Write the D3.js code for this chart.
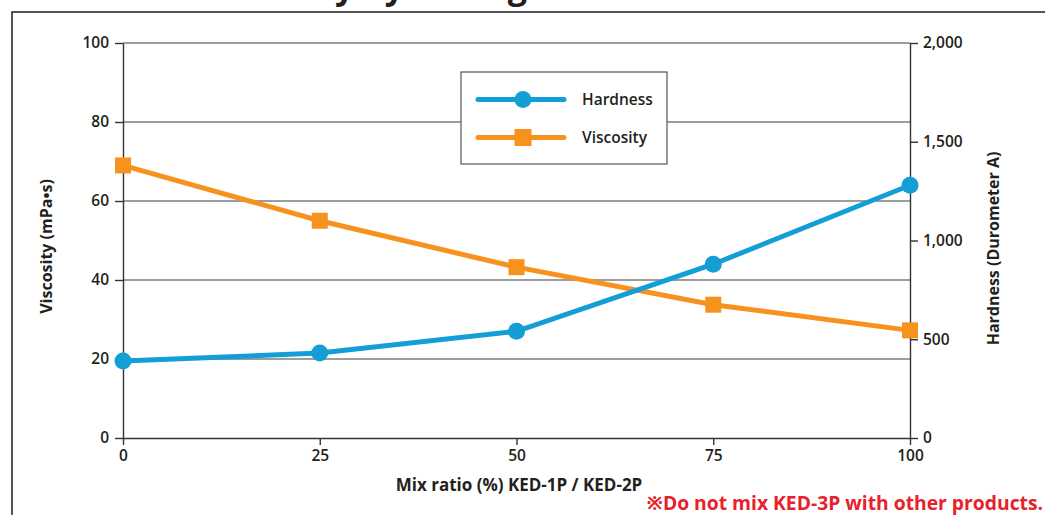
<!DOCTYPE html>
<html>
<head>
<meta charset="utf-8">
<script src="https://cdn.jsdelivr.net/npm/d3@7"></script>
<style>
  html, body { margin: 0; padding: 0; background: #fff; }
  svg { display: block; }
  text { font-family: "Open Sans", "Noto Sans", sans-serif; fill: #231f20; }
</style>
</head>
<body>
<svg id="chart" width="1045" height="515"></svg>
<script>
// Mix ratio of KED-1P / KED-2P and the measured properties
const mixRatio = [0, 25, 50, 75, 100];
const hardness = [19.5, 21.5, 27, 44, 64];        // left scale
const viscosity = [1380, 1100, 865, 675, 545];    // right scale

const xTicks = [0, 25, 50, 75, 100];
const leftTicks = [0, 20, 40, 60, 80, 100];
const rightTicks = [0, 500, 1000, 1500, 2000];
const gridTicks = [20, 40, 60, 80, 100];

const seriesNames = ["Hardness", "Viscosity"];
const seriesColors = ["#139fd6", "#f7921e"];

const svg = d3.select("#chart");
const W = 1045, H = 515;
const plot = { left: 123, right: 910, top: 43, bottom: 438 };

const x = d3.scaleLinear().domain([0, 100]).range([plot.left, plot.right]);
const yL = d3.scaleLinear().domain([0, 100]).range([plot.bottom, plot.top]);
const yR = d3.scaleLinear().domain([0, 2000]).range([plot.bottom, plot.top]);

// heading (sits above the visible area, only its descenders reach in)
svg.append("text")
  .attr("x", 527).attr("y", -1)
  .attr("text-anchor", "end")
  .style("font-size", "34px").style("font-weight", 700)
  .text("Hardness / Viscosity by Mixing");

// outer frame
svg.append("rect")
  .attr("x", 12).attr("y", 12)
  .attr("width", W + 20).attr("height", H + 20)
  .attr("fill", "none").attr("stroke", "#2b2b2b").attr("stroke-width", 1.6);

// horizontal grid
svg.append("g").selectAll("line").data(gridTicks).join("line")
  .attr("x1", plot.left).attr("x2", plot.right)
  .attr("y1", d => yL(d)).attr("y2", d => yL(d))
  .attr("stroke", "#7d7d7d").attr("stroke-width", 1.5);

const tickFont = g => g.selectAll("text")
  .style("font-size", "15.5px").style("font-weight", 600).attr("fill", "#231f20");
const axisStyle = g => {
  g.select(".domain").attr("stroke", "#333").attr("stroke-width", 1.4);
  g.selectAll(".tick line").attr("stroke", "#333").attr("stroke-width", 1.4);
  tickFont(g);
};

svg.append("g")
  .attr("transform", `translate(0,${plot.bottom})`)
  .call(d3.axisBottom(x).tickValues(xTicks).tickSize(7).tickSizeOuter(0).tickPadding(5))
  .call(axisStyle);

svg.append("g")
  .attr("transform", `translate(${plot.left},0)`)
  .call(d3.axisLeft(yL).tickValues(leftTicks).tickSize(8).tickSizeOuter(0).tickPadding(6))
  .call(axisStyle);

svg.append("g")
  .attr("transform", `translate(${plot.right},0)`)
  .call(d3.axisRight(yR).tickValues(rightTicks).tickSize(8).tickSizeOuter(0).tickPadding(5)
    .tickFormat(d3.format(",")))
  .call(axisStyle);

// axis titles
svg.append("text")
  .attr("transform", `translate(52,${(plot.top + plot.bottom) / 2 + 6}) rotate(-90)`)
  .attr("text-anchor", "middle")
  .style("font-size", "16px").style("font-weight", 700)
  .text("Viscosity (mPa\u2022s)");

svg.append("text")
  .attr("transform", `translate(999,${(plot.top + plot.bottom) / 2 + 8}) rotate(-90)`)
  .attr("text-anchor", "middle")
  .style("font-size", "16px").style("font-weight", 700)
  .text("Hardness (Durometer A)");

svg.append("text")
  .attr("x", 519).attr("y", 491)
  .attr("text-anchor", "middle")
  .style("font-size", "17px").style("font-weight", 700)
  .text("Mix ratio (%) KED-1P / KED-2P");

svg.append("text")
  .attr("x", 1043).attr("y", 509.5)
  .attr("text-anchor", "end")
  .attr("fill", "#e8212b").style("fill", "#e8212b")
  .style("font-size", "19.3px").style("font-weight", 700)
  .text("\u203BDo not mix KED-3P with other products.");

// series
const hardPts = mixRatio.map((m, i) => [x(m), yL(hardness[i])]);
const viscPts = mixRatio.map((m, i) => [x(m), yR(viscosity[i])]);
const line = d3.line();

svg.append("path").attr("d", line(viscPts))
  .attr("fill", "none").attr("stroke", seriesColors[1]).attr("stroke-width", 5);
svg.append("path").attr("d", line(hardPts))
  .attr("fill", "none").attr("stroke", seriesColors[0]).attr("stroke-width", 5);

svg.append("g").selectAll("rect").data(viscPts).join("rect")
  .attr("x", d => d[0] - 8).attr("y", d => d[1] - 8)
  .attr("width", 16).attr("height", 16)
  .attr("fill", seriesColors[1]);
svg.append("g").selectAll("circle").data(hardPts).join("circle")
  .attr("cx", d => d[0]).attr("cy", d => d[1]).attr("r", 8.5)
  .attr("fill", seriesColors[0]);

// legend
const lg = svg.append("g").attr("transform", "translate(461,72)");
lg.append("rect").attr("width", 206).attr("height", 92)
  .attr("fill", "#fff").attr("stroke", "#555").attr("stroke-width", 1.2);
seriesNames.forEach((name, i) => {
  const cy = 27.5 + i * 38;
  lg.append("line").attr("x1", 17).attr("x2", 103).attr("y1", cy).attr("y2", cy)
    .attr("stroke", seriesColors[i]).attr("stroke-width", 5).attr("stroke-linecap", "round");
  if (i === 0) {
    lg.append("circle").attr("cx", 62).attr("cy", cy).attr("r", 8.5).attr("fill", seriesColors[i]);
  } else {
    lg.append("rect").attr("x", 62 - 8.5).attr("y", cy - 8.5).attr("width", 17).attr("height", 17)
      .attr("fill", seriesColors[i]);
  }
  lg.append("text").attr("x", 121).attr("y", cy + 5)
    .style("font-size", "15.5px").style("font-weight", 600).text(name);
});
</script>
</body>
</html>
